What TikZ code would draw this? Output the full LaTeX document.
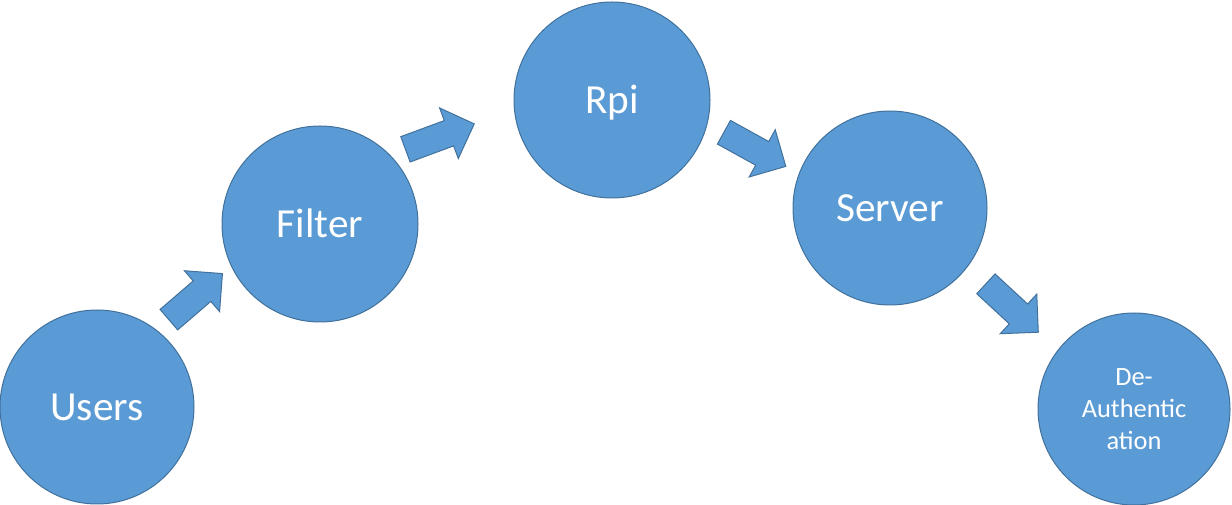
\documentclass[tikz,border=0pt]{standalone}
\usepackage{fontspec}
\setmainfont{Carlito}
\usetikzlibrary{shapes.arrows}
\definecolor{cfill}{HTML}{5B9BD5}
\definecolor{cline}{HTML}{41719C}
\tikzset{
  bubble/.style={circle, fill=cfill, draw=cline, line width=0.75pt, inner sep=0pt,
    text=white, font=\fontsize{31pt}{36pt}\selectfont, text height=20pt, text depth=0pt},
  smallbubble/.style={circle, fill=cfill, draw=cline, line width=0.75pt, inner sep=0pt,
    text=white, font=\fontsize{19.8pt}{24pt}\selectfont, align=center},
  barrow/.style={single arrow, fill=cfill, draw=cline, line width=0.75pt,
    inner xsep=0pt, inner ysep=9.75pt, single arrow head extend=10.1pt,
    minimum width=1pt, anchor=tail}
}
\begin{document}
\begin{tikzpicture}[x=0.75pt,y=-0.75pt]
\useasboundingbox (0,0) rectangle (1232,505);
\node[bubble, minimum size=145.5pt] (users) at (97,407) {Users};
\node[bubble, minimum size=147pt] (filter) at (320,224) {Filter};
\node[bubble, minimum size=147pt] (rpi) at (612,100) {Rpi};
\node[bubble, minimum size=145.5pt] (server) at (890,208) {Server};
\node[smallbubble, minimum size=144pt] (deauth) at (1134,409) {De-\\Authentic\\ation};
\node[barrow, minimum height=53pt, rotate=40.7] (a1) at (168.5,320) {};
\node[barrow, minimum height=55pt, rotate=20.3] (a2) at (405,149.5) {};
\node[barrow, minimum height=53pt, rotate=-28.9] (a3) at (723.5,132) {};
\node[barrow, minimum height=53.5pt, rotate=-42.7] (a4) at (985.5,283.5) {};
\end{tikzpicture}
\end{document}
